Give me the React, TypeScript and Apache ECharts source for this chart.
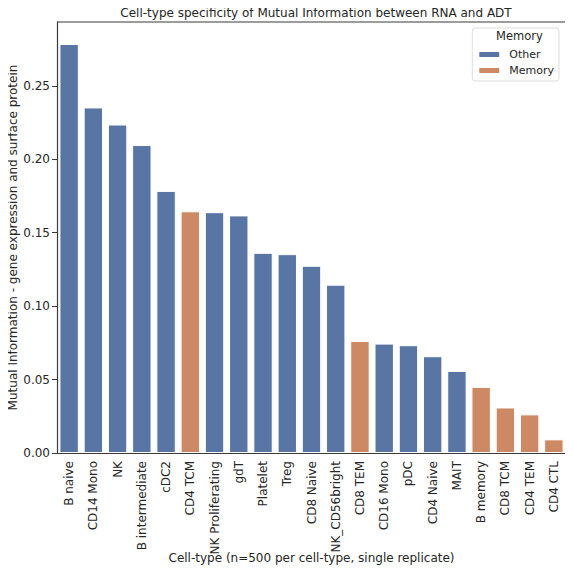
import React, { useEffect, useRef } from "react";
import * as echarts from "echarts";

// cell types, in plotted (descending) order
const cellTypes = [
  "B naive", "CD14 Mono", "NK", "B intermediate", "cDC2", "CD4 TCM",
  "NK Proliferating", "gdT", "Platelet", "Treg", "CD8 Naive", "NK_CD56bright",
  "CD8 TEM", "CD16 Mono", "pDC", "CD4 Naive", "MAIT", "B memory",
  "CD8 TCM", "CD4 TEM", "CD4 CTL",
];
const mutualInfo = [
  0.2785, 0.2353, 0.2237, 0.2097, 0.1785, 0.1646,
  0.1640, 0.1618, 0.1363, 0.1354, 0.1275, 0.1146,
  0.0763, 0.0745, 0.0734, 0.0659, 0.0559, 0.0450,
  0.0310, 0.0263, 0.0093,
];
const memoryGroup = [
  "Other", "Other", "Other", "Other", "Other", "Memory",
  "Other", "Other", "Other", "Other", "Other", "Other",
  "Memory", "Other", "Other", "Other", "Other", "Memory",
  "Memory", "Memory", "Memory",
];
const groups = ["Other", "Memory"];
const groupColors = ["#5975a4", "#cc8963"];
const yTicks = [0, 0.05, 0.1, 0.15, 0.2, 0.25];

const FONT = "DejaVu Sans";
const TEXT = "#262626";
const AXIS = "#3a3a3a";

const App: React.FC = () => {
  const chartRef = useRef<HTMLDivElement | null>(null);

  useEffect(() => {
    if (!chartRef.current) return;
    const chart = echarts.init(chartRef.current, undefined, { renderer: "svg" });

    const series = groups.map((g, gi) => ({
      name: g,
      type: "bar" as const,
      stack: "all",
      barWidth: "80%",
      itemStyle: { color: groupColors[gi], borderColor: "#ffffff", borderWidth: 1 },
      data: mutualInfo.map((v, i) => (memoryGroup[i] === g ? v : null)),
    }));

    const option: any = {
      animation: false,
      backgroundColor: "#ffffff",
      textStyle: { fontFamily: FONT, color: TEXT },
      title: {
        text: "Cell-type specificity of Mutual Information between RNA and ADT",
        left: 311,
        textAlign: "center",
        top: 2,
        textStyle: { fontFamily: FONT, fontSize: 12, fontWeight: "normal", color: TEXT },
      },
      legend: {
        data: groups,
        orient: "vertical",
        right: 14,
        top: 28,
        padding: [21, 5, 5, 5],
        itemWidth: 22,
        itemHeight: 7,
        itemGap: 5,
        borderColor: "#dddddd",
        borderWidth: 1,
        borderRadius: 3,
        backgroundColor: "#ffffff",
        textStyle: { fontFamily: FONT, fontSize: 11, color: TEXT, padding: [0, 0, 0, 4] },
      },
      graphic: [
        {
          type: "text",
          left: 496,
          top: 30,
          style: { text: "Memory", font: `11.5px "${FONT}"`, fill: TEXT },
          z: 100,
        },
        // right and top spines
        {
          type: "line",
          shape: { x1: 566, y1: 22, x2: 566, y2: 453 },
          style: { stroke: AXIS, lineWidth: 1.2 },
        },
        {
          type: "line",
          shape: { x1: 57, y1: 22, x2: 566, y2: 22 },
          style: { stroke: AXIS, lineWidth: 1.2 },
        },
      ],
      grid: { left: 57, right: 7, top: 22, bottom: 120, containLabel: false, outerBoundsMode: "none" },
      xAxis: {
        type: "category",
        data: cellTypes,
        name: "Cell-type (n=500 per cell-type, single replicate)",
        nameLocation: "middle",
        nameGap: 99,
        nameMoveOverlap: false,
        nameTextStyle: { fontFamily: FONT, fontSize: 12, color: TEXT },
        axisLine: { lineStyle: { color: AXIS, width: 1.2 } },
        axisTick: { alignWithLabel: true, length: 5, lineStyle: { color: AXIS } },
        axisLabel: { rotate: 90, fontSize: 12, color: TEXT, fontFamily: FONT, margin: 8, interval: 0 },
      },
      yAxis: {
        type: "value",
        min: 0,
        max: 0.2935,
        interval: 0.05,
        name: "Mutual Information - gene expression and surface protein",
        nameLocation: "middle",
        nameGap: 38,
        nameMoveOverlap: false,
        nameTextStyle: { fontFamily: FONT, fontSize: 12, color: TEXT },
        axisLine: { show: true, lineStyle: { color: AXIS, width: 1.2 } },
        axisTick: { show: true, length: 5, lineStyle: { color: AXIS } },
        splitLine: { show: false },
        axisLabel: {
          fontSize: 12,
          color: TEXT,
          fontFamily: FONT,
          margin: 7,
          showMaxLabel: false,
          formatter: (v: number) => (yTicks.some((t) => Math.abs(t - v) < 1e-9) ? v.toFixed(2) : ""),
        },
      },
      series,
    };

    chart.setOption(option);
    return () => chart.dispose();
  }, []);

  return <div ref={chartRef} style={{ width: 573, height: 573, margin: -8 }} />;
};

export default App;
